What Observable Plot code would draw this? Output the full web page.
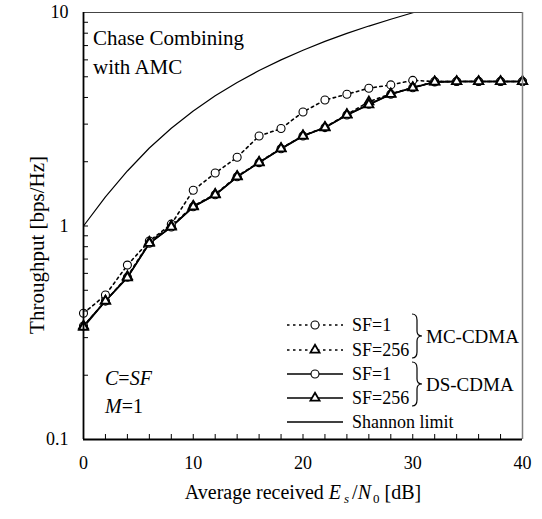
<!DOCTYPE html>
<html>
<head>
<meta charset="utf-8">
<script src="https://cdn.jsdelivr.net/npm/d3@7"></script>
<script src="https://cdn.jsdelivr.net/npm/@observablehq/plot@0.6"></script>
<style>
  html, body { margin: 0; padding: 0; background: white; font-family: "Liberation Serif", serif; }
  svg { display: block; }
</style>
</head>
<body>
<div id="chart"></div>
<script>
// ---- Data ----
const snrDb = [0, 2, 4, 6, 8, 10, 12, 14, 16, 18, 20, 22, 24, 26, 28, 30, 32, 34, 36, 38, 40];
const mcSF1   = [0.39, 0.475, 0.656, 0.85, 1.02, 1.47, 1.77, 2.10, 2.64, 2.86, 3.42, 3.89, 4.14, 4.42, 4.58, 4.81, 4.75, 4.75, 4.75, 4.75, 4.75];
const mcSF256 = [0.34, 0.445, 0.58, 0.84, 1.00, 1.24, 1.41, 1.71, 1.99, 2.31, 2.65, 2.90, 3.33, 3.82, 4.16, 4.45, 4.74, 4.75, 4.75, 4.75, 4.75];
const dsSF1   = [0.34, 0.445, 0.575, 0.83, 0.99, 1.23, 1.40, 1.70, 1.98, 2.30, 2.64, 2.89, 3.31, 3.72, 4.14, 4.44, 4.73, 4.75, 4.75, 4.75, 4.75];
const dsSF256 = [0.336, 0.445, 0.573, 0.83, 0.99, 1.23, 1.40, 1.70, 1.98, 2.30, 2.64, 2.89, 3.31, 3.70, 4.14, 4.44, 4.73, 4.75, 4.75, 4.75, 4.75];
const shannonDb = [0, 2, 4, 6, 8, 10, 12, 14, 16, 18, 20, 22, 24, 26, 28, 30, 32];
const shannon   = [1.00, 1.37, 1.81, 2.32, 2.87, 3.46, 4.07, 4.70, 5.35, 6.00, 6.66, 7.32, 7.98, 8.64, 9.30, 9.97, 10.63];

const xMajorTicks = [0, 10, 20, 30, 40];
const xMinorTicks = [0, 2, 4, 6, 8, 10, 12, 14, 16, 18, 20, 22, 24, 26, 28, 30, 32, 34, 36, 38, 40];
const yMajorTicks = [0.1, 1, 10];
const yMinorTicks = [0.2, 0.3, 0.4, 0.5, 0.6, 0.7, 0.8, 0.9, 1, 2, 3, 4, 5, 6, 7, 8, 9];

const seriesNames = ["MC SF=1", "MC SF=256", "DS SF=1", "DS SF=256"];
const seriesValues = [mcSF1, mcSF256, dsSF1, dsSF256];
const seriesDash = ["2.5,3.5", "2.5,3.5", null, null];
const seriesSymbol = ["circle", "triangle", "circle", "triangle"];

const rows = [];
seriesNames.forEach((name, i) => {
  snrDb.forEach((x, j) => rows.push({series: name, x, y: seriesValues[i][j]}));
});
const shannonRows = shannonDb.map((x, j) => ({x, y: shannon[j]}));

const FONT = "Liberation Serif";
const CIRCLE_R = 4.0, TRI_R = 3.4;

const lineMarks = seriesNames.map((name, i) =>
  Plot.line(rows.filter(r => r.series === name), {
    x: "x", y: "y", stroke: "black", strokeWidth: 1.6,
    strokeDasharray: seriesDash[i] || undefined
  })
);
const dotMarks = seriesNames.map((name, i) =>
  Plot.dot(rows.filter(r => r.series === name), {
    x: "x", y: "y", symbol: seriesSymbol[i], r: seriesSymbol[i] === "circle" ? CIRCLE_R : TRI_R,
    stroke: "black", strokeWidth: seriesSymbol[i] === "circle" ? 1.1 : 1.8, fill: "white"
  })
);

const chart = Plot.plot({
  width: 542,
  height: 519,
  marginLeft: 83,
  marginRight: 20,
  marginTop: 12,
  marginBottom: 80,
  style: {fontFamily: FONT, fontSize: "18px", background: "white", color: "black", overflow: "visible"},
  x: {domain: [0, 40]},
  y: {type: "log", domain: [0.1, 10]},
  marks: [
    Plot.line(shannonRows, {x: "x", y: "y", stroke: "black", strokeWidth: 1.2, clip: true}),
    lineMarks[1], lineMarks[0], lineMarks[3], lineMarks[2],
    dotMarks[2], dotMarks[0], dotMarks[1], dotMarks[3],
    Plot.axisX(xMinorTicks, {tickSize: -5, tickFormat: () => "", label: null, strokeWidth: 1}),
    Plot.axisX(xMajorTicks, {tickSize: 0, tickPadding: 17, label: null, fontSize: 18, fontFamily: FONT, tickFormat: d => String(d)}),
    Plot.axisY(yMinorTicks, {tickSize: -5, tickFormat: () => "", label: null, strokeWidth: 1}),
    Plot.axisY(yMajorTicks, {tickSize: 0, tickPadding: 15, label: null, fontSize: 18, fontFamily: FONT, tickFormat: d => String(d)}),
    Plot.ruleY([10], {stroke: "#444", strokeWidth: 1}),
    Plot.ruleX([40], {stroke: "#808080", strokeWidth: 1.5}),
    Plot.ruleY([0.1], {stroke: "black", strokeWidth: 1.8}),
    Plot.ruleX([0], {stroke: "black", strokeWidth: 1.8})
  ]
});
document.getElementById("chart").appendChild(chart);

// ---- Annotations, axis titles and legend ----
const svg = d3.select(chart);
const g = svg.append("g").attr("fill", "black").attr("text-anchor", "start").attr("font-family", FONT);

// Axis titles
g.append("text")
  .attr("transform", "translate(44,245) rotate(-90)")
  .attr("text-anchor", "middle")
  .attr("font-size", 21)
  .text("Throughput [bps/Hz]");

const xt = g.append("text")
  .attr("x", 303).attr("y", 499)
  .attr("text-anchor", "middle")
  .attr("font-size", 20);
xt.append("tspan").text("Average received ");
xt.append("tspan").attr("font-style", "italic").text("E");
xt.append("tspan").attr("font-style", "italic").attr("font-size", 13).attr("dy", 4).attr("dx", 3).text("s");
xt.append("tspan").attr("dy", -4).attr("dx", 3).text("/");
xt.append("tspan").attr("font-style", "italic").text("N");
xt.append("tspan").attr("font-size", 13).attr("dy", 4).attr("dx", 2).text("0");
xt.append("tspan").attr("dy", -4).text(" [dB]");

// In-plot annotation
g.append("text").attr("x", 93).attr("y", 45).attr("font-size", 21).text("Chase Combining");
g.append("text").attr("x", 93).attr("y", 74).attr("font-size", 21).text("with AMC");

const t1 = g.append("text").attr("x", 105).attr("y", 385).attr("font-size", 20);
t1.append("tspan").attr("font-style", "italic").text("C");
t1.append("tspan").text("=");
t1.append("tspan").attr("font-style", "italic").text("SF");
const t2 = g.append("text").attr("x", 105).attr("y", 413).attr("font-size", 20);
t2.append("tspan").attr("font-style", "italic").text("M");
t2.append("tspan").text("=1");

// Legend
const legendItems = [
  {label: "SF=1", dash: "2.5,3.5", symbol: "circle"},
  {label: "SF=256", dash: "2.5,3.5", symbol: "triangle"},
  {label: "SF=1", dash: null, symbol: "circle"},
  {label: "SF=256", dash: null, symbol: "triangle"},
  {label: "Shannon limit", dash: null, symbol: null}
];
const rowY = [325, 350, 374, 398, 422];
const lx0 = 287, lx1 = 343, lmx = 315, ltx = 352;
legendItems.forEach((it, i) => {
  const y = rowY[i];
  const ln = g.append("line").attr("x1", lx0).attr("x2", lx1).attr("y1", y).attr("y2", y)
    .attr("stroke", "black").attr("stroke-width", it.dash ? 1.6 : 1.4);
  if (it.dash) ln.attr("stroke-dasharray", it.dash);
  if (it.symbol) {
    const sym = it.symbol === "circle"
      ? d3.symbol(d3.symbolCircle, Math.PI * CIRCLE_R * CIRCLE_R)()
      : d3.symbol(d3.symbolTriangle, Math.PI * TRI_R * TRI_R)();
    g.append("path").attr("d", sym).attr("transform", `translate(${lmx},${y})`)
      .attr("fill", "white").attr("stroke", "black")
      .attr("stroke-width", it.symbol === "circle" ? 1.1 : 1.8);
  }
  g.append("text").attr("x", ltx).attr("y", y).attr("dy", "0.35em").attr("font-size", 18).text(it.label);
});

function brace(x0, top, bot) {
  const mid = (top + bot) / 2, w = 5;
  return `M${x0},${top} Q${x0 + w},${top} ${x0 + w},${top + 6} L${x0 + w},${mid - 5} Q${x0 + w},${mid} ${x0 + 2 * w},${mid}` +
         ` Q${x0 + w},${mid} ${x0 + w},${mid + 5} L${x0 + w},${bot - 6} Q${x0 + w},${bot} ${x0},${bot}`;
}
g.append("path").attr("d", brace(412, 314, 358)).attr("fill", "none").attr("stroke", "black").attr("stroke-width", 1.2);
g.append("path").attr("d", brace(412, 362, 406)).attr("fill", "none").attr("stroke", "black").attr("stroke-width", 1.2);
g.append("text").attr("x", 426).attr("y", 336).attr("dy", "0.35em").attr("font-size", 19).text("MC-CDMA");
g.append("text").attr("x", 426).attr("y", 384).attr("dy", "0.35em").attr("font-size", 19).text("DS-CDMA");

// Make sure every text node uses the serif face
svg.selectAll("text, tspan").each(function () {
  this.setAttribute("font-family", FONT);
});
</script>
</body>
</html>
